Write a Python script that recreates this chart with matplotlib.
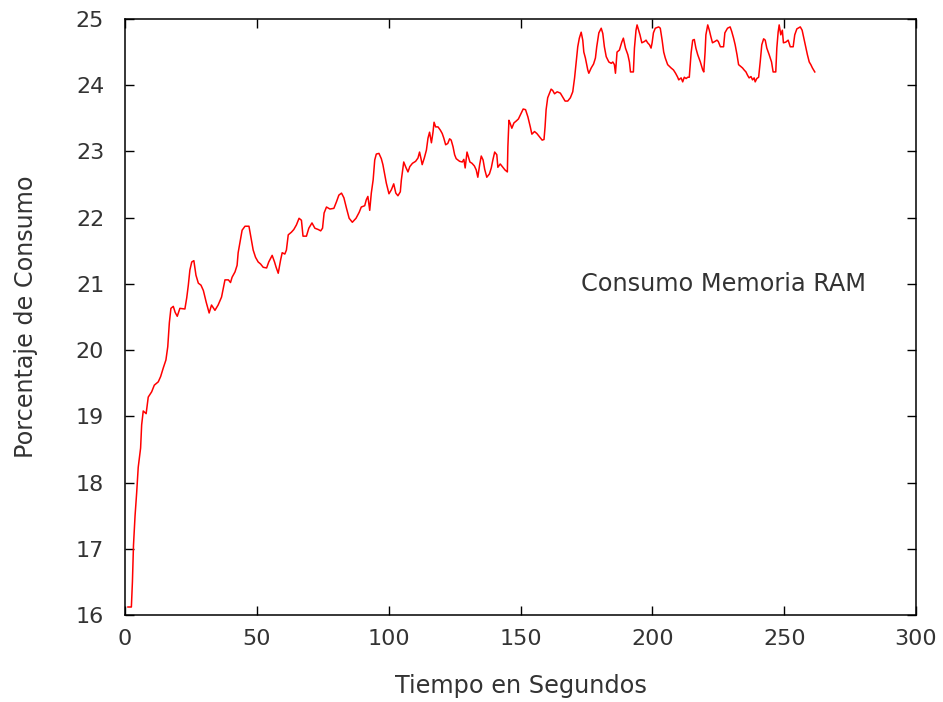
import matplotlib
matplotlib.use("Agg")
import matplotlib.pyplot as plt

# valores (segundos, % de consumo)
tiempo = [
    1.1, 2.4, 2.8, 3.2, 3.8, 4.4, 5.0, 5.9, 6.3, 6.9,
    8.0, 8.8, 10.1, 11.1, 12.6, 13.5, 14.5, 15.5, 16.2, 16.8,
    17.4, 18.3, 19.0, 19.8, 20.8, 22.7, 23.4, 24.0, 24.6, 25.3,
    26.1, 26.9, 27.8, 28.8, 29.7, 30.8, 31.9, 32.8, 34.1, 35.3,
    36.6, 37.9, 39.2, 40.0, 40.6, 41.7, 42.5, 42.9, 44.4, 45.5,
    47.0, 47.7, 48.6, 49.5, 50.5, 51.4, 52.4, 53.7, 54.5, 55.8,
    56.7, 57.3, 58.1, 59.0, 59.6, 60.6, 61.2, 61.9, 63.1, 64.0,
    65.0, 66.0, 66.9, 67.5, 68.8, 69.7, 70.9, 72.0, 73.3, 74.2,
    74.9, 75.5, 76.4, 77.7, 79.2, 80.2, 81.1, 82.1, 83.0, 84.0,
    85.0, 86.2, 87.6, 88.8, 89.6, 90.9, 91.5, 92.1, 92.8, 93.4,
    94.1, 94.7, 95.3, 96.3, 97.2, 97.8, 98.5, 99.1, 100.1, 101.0,
    101.9, 102.7, 103.5, 104.4, 104.8, 105.7, 106.5, 107.3, 108.0, 109.0,
    110.2, 111.1, 111.7, 112.2, 112.7, 113.5, 114.3, 114.9, 115.5, 116.2,
    116.8, 117.2, 117.8, 118.7, 119.6, 120.3, 120.9, 121.6, 122.4, 123.1,
    123.7, 124.4, 125.0, 125.6, 126.9, 127.9, 128.5, 129.0, 129.7, 130.0,
    130.8, 131.6, 132.5, 133.2, 133.8, 134.5, 135.1, 135.8, 136.4, 137.2,
    138.2, 138.9, 139.5, 140.2, 141.0, 141.4, 142.3, 143.3, 144.1, 145.0,
    145.2, 145.6, 146.1, 146.7, 147.5, 148.4, 149.2, 150.3, 151.0, 151.9,
    152.8, 153.7, 154.3, 155.3, 156.2, 157.2, 158.2, 158.9, 159.3, 159.7,
    160.3, 161.0, 161.6, 162.2, 162.9, 163.9, 165.1, 166.0, 166.9, 167.9,
    168.9, 169.8, 170.5, 171.1, 171.7, 172.3, 173.0, 173.6, 174.0, 174.6,
    175.5, 175.9, 176.8, 177.7, 178.4, 178.9, 179.7, 180.6, 181.2, 181.8,
    182.5, 183.5, 184.4, 185.0, 185.6, 186.0, 186.6, 187.5, 188.4, 189.0,
    189.8, 190.7, 191.3, 191.7, 192.8, 193.2, 193.8, 194.2, 194.8, 195.3,
    196.0, 197.0, 197.6, 198.2, 198.9, 199.5, 199.9, 200.4, 201.1, 202.4,
    203.0, 203.7, 204.3, 204.9, 205.8, 207.1, 208.0, 208.8, 209.6, 210.0,
    210.9, 211.5, 212.1, 212.8, 213.4, 214.0, 214.7, 215.3, 215.9, 216.5,
    217.2, 218.2, 219.1, 219.5, 220.0, 220.3, 221.0, 221.6, 222.2, 222.8,
    223.7, 224.5, 225.0, 225.8, 227.0, 227.5, 228.5, 229.5, 230.1, 230.8,
    231.4, 232.1, 232.7, 233.3, 234.2, 234.8, 235.5, 236.1, 236.7, 237.4,
    238.0, 238.6, 239.0, 239.6, 240.3, 240.9, 241.5, 242.2, 242.8, 243.4,
    244.3, 245.2, 245.8, 246.8, 247.2, 247.7, 248.1, 248.7, 249.3, 249.7,
    250.6, 251.5, 252.3, 253.4, 254.0, 254.8, 256.1, 256.8, 257.6, 258.2,
    258.8, 259.5, 260.1, 260.7, 261.6,
]
consumo = [
    16.12, 16.12, 16.5, 17.05, 17.5, 17.84, 18.23, 18.52, 18.87, 19.08,
    19.04, 19.29, 19.37, 19.47, 19.52, 19.6, 19.73, 19.85, 20.05, 20.41,
    20.63, 20.66, 20.57, 20.51, 20.63, 20.62, 20.79, 20.98, 21.21, 21.33,
    21.35, 21.13, 21.01, 20.98, 20.9, 20.72, 20.56, 20.68, 20.6, 20.68,
    20.8, 21.06, 21.06, 21.02, 21.1, 21.18, 21.28, 21.47, 21.81, 21.87,
    21.87, 21.71, 21.51, 21.4, 21.33, 21.3, 21.25, 21.24, 21.33, 21.43,
    21.33, 21.25, 21.16, 21.36, 21.47, 21.45, 21.51, 21.74, 21.78, 21.82,
    21.89, 21.99, 21.96, 21.72, 21.72, 21.84, 21.92, 21.84, 21.82, 21.8,
    21.84, 22.07, 22.16, 22.13, 22.14, 22.24, 22.34, 22.37, 22.3, 22.14,
    21.99, 21.93, 21.99, 22.08, 22.16, 22.18, 22.27, 22.32, 22.11, 22.37,
    22.57, 22.87, 22.96, 22.97, 22.89, 22.8, 22.65, 22.52, 22.36, 22.42,
    22.51, 22.37, 22.33, 22.39, 22.57, 22.84, 22.76, 22.69, 22.77, 22.82,
    22.85, 22.9, 22.99, 22.9, 22.8, 22.9, 23.02, 23.2, 23.29, 23.13,
    23.29, 23.44, 23.37, 23.37, 23.32, 23.27, 23.2, 23.1, 23.12, 23.19,
    23.17, 23.07, 22.95, 22.89, 22.85, 22.84, 22.88, 22.75, 22.99, 22.95,
    22.84, 22.82, 22.78, 22.72, 22.61, 22.8, 22.93, 22.87, 22.73, 22.61,
    22.66, 22.75, 22.87, 22.99, 22.95, 22.76, 22.81, 22.76, 22.72, 22.69,
    23.07, 23.47, 23.42, 23.35, 23.43, 23.46, 23.49, 23.58, 23.64, 23.63,
    23.52, 23.37, 23.26, 23.3, 23.27, 23.22, 23.17, 23.18, 23.37, 23.63,
    23.81, 23.88, 23.94, 23.92, 23.87, 23.9, 23.88, 23.82, 23.76, 23.76,
    23.81, 23.9, 24.11, 24.34, 24.58, 24.71, 24.8, 24.68, 24.5, 24.41,
    24.23, 24.18, 24.26, 24.32, 24.41, 24.58, 24.79, 24.86, 24.78, 24.58,
    24.43, 24.35, 24.33, 24.35, 24.31, 24.18, 24.5, 24.53, 24.65, 24.71,
    24.56, 24.46, 24.35, 24.2, 24.2, 24.56, 24.83, 24.91, 24.83, 24.76,
    24.64, 24.66, 24.68, 24.64, 24.61, 24.56, 24.64, 24.79, 24.86, 24.88,
    24.86, 24.68, 24.5, 24.41, 24.31, 24.26, 24.23, 24.18, 24.12, 24.08,
    24.11, 24.05, 24.12, 24.1, 24.12, 24.12, 24.49, 24.68, 24.69, 24.56,
    24.46, 24.35, 24.23, 24.2, 24.5, 24.76, 24.91, 24.83, 24.73, 24.64,
    24.66, 24.68, 24.66, 24.58, 24.58, 24.79, 24.86, 24.88, 24.81, 24.71,
    24.61, 24.46, 24.31, 24.29, 24.26, 24.23, 24.2, 24.15, 24.11, 24.13,
    24.08, 24.11, 24.05, 24.1, 24.12, 24.35, 24.61, 24.7, 24.68, 24.56,
    24.46, 24.35, 24.2, 24.2, 24.56, 24.8, 24.91, 24.76, 24.83, 24.64,
    24.65, 24.68, 24.58, 24.58, 24.76, 24.85, 24.88, 24.83, 24.68, 24.56,
    24.46, 24.35, 24.31, 24.26, 24.2,
]

xticks = [0, 50, 100, 150, 200, 250, 300]
yticks = [16, 17, 18, 19, 20, 21, 22, 23, 24, 25]

texto = '#333333'
plt.rcParams['font.family'] = ['DejaVu Sans']

fig = plt.figure(figsize=(9.43, 7.02), dpi=100)
ax = fig.add_axes([0.1326, 0.124, 0.8388, 0.849])

ax.plot(tiempo, consumo, color='#ff0000', linewidth=1.1)

ax.set_xlim(0, 300)
ax.set_ylim(16, 25)
ax.set_xticks(xticks)
ax.set_yticks(yticks)

ax.tick_params(direction='in', length=6.5, width=1.0, top=True, right=True,
               labelsize=16, color='black', labelcolor=texto)
ax.tick_params(axis='y', pad=15)
ax.tick_params(axis='x', pad=10)
for s in ax.spines.values():
    s.set_linewidth(1.1)
    s.set_color('black')

ax.set_xlabel("Tiempo en Segundos", fontsize=17.3, labelpad=18, color=texto)
ax.set_ylabel("Porcentaje de Consumo", fontsize=17.2, labelpad=27, color=texto)

ax.text(173, 21.0, "Consumo Memoria RAM", fontsize=17.3, ha='left', va='center',
        color=texto)

fig.savefig("out.png", dpi=100)
